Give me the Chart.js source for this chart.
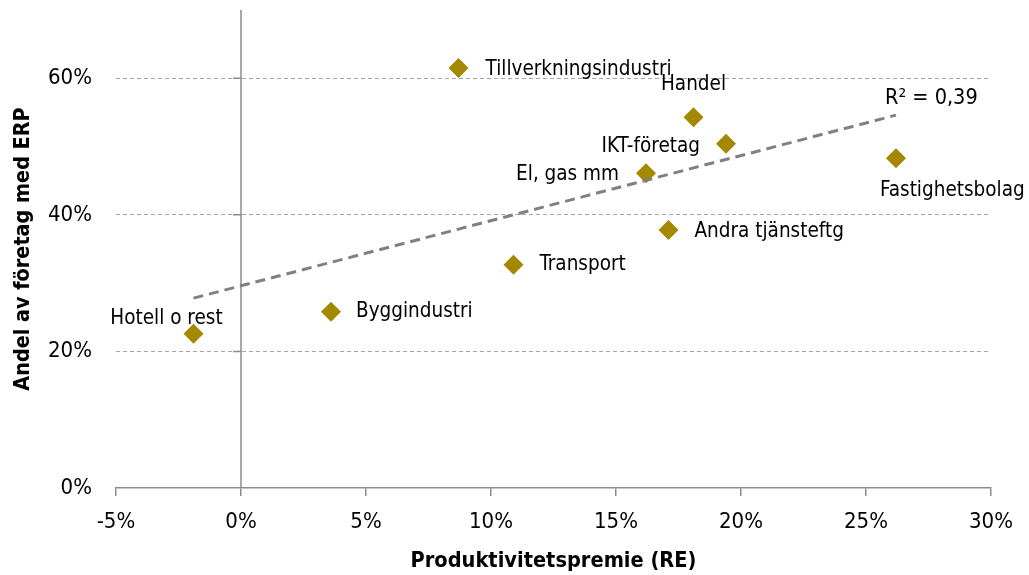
<!DOCTYPE html>
<html>
<head>
<meta charset="utf-8">
<script src="https://cdn.jsdelivr.net/npm/chart.js@4/dist/chart.umd.min.js"></script>
<style>
    html, body { margin: 0; padding: 0; background: #ffffff; }
    #wrap { position: relative; width: 1029px; height: 575px; }
</style>
</head>
<body>
<div id="wrap"><canvas id="erpChart"></canvas></div>
<script>
// Data
const categories = ['Hotell o rest', 'Byggindustri', 'Transport', 'Tillverkningsindustri', 'Handel', 'IKT-företag', 'El, gas mm', 'Andra tjänsteftg', 'Fastighetsbolag'];
const premieValues = [-1.9, 3.6, 10.9, 8.7, 18.1, 19.4, 16.2, 17.1, 26.2];
const erpShares = [22.6, 25.8, 32.7, 61.5, 54.3, 50.4, 46.1, 37.8, 48.3];
const trendX = [-1.9, 26.2];
const trendY = [27.8, 54.6];
const xTicks = [-5, 0, 5, 10, 15, 20, 25, 30];
const yTicks = [0, 20, 40, 60];
const r2Text = 'R² = 0,39';
const xTitle = 'Produktivitetspremie (RE)';
const yTitle = 'Andel av företag med ERP';

// label placement next to each point (pixel offsets, text alignment)
const labelPlacement = [
    { dx: -27, dy: -15, align: 'center' },
    { dx: 25, dy: 0, align: 'left' },
    { dx: 26, dy: 0, align: 'left' },
    { dx: 27, dy: 2, align: 'left' },
    { dx: 0, dy: -33, align: 'center' },
    { dx: -26, dy: 3, align: 'right' },
    { dx: -27, dy: 1, align: 'right' },
    { dx: 26, dy: 2, align: 'left' },
    { dx: -16, dy: 32, align: 'left' },
];

const FONT = "'DejaVu Sans Condensed', 'DejaVu Sans', sans-serif";
const AXIS_GREY = '#8c8c8c';

const pointData = premieValues.map((x, i) => ({ x: x, y: erpShares[i] }));
const trendData = trendX.map((x, i) => ({ x: x, y: trendY[i] }));

// vertical axis at x = 0 with its small tick marks
const zeroAxisPlugin = {
    id: 'zeroAxis',
    beforeDatasetsDraw(chart) {
        const { ctx, chartArea, scales } = chart;
        const x0 = scales.x.getPixelForValue(0);
        ctx.save();
        ctx.strokeStyle = AXIS_GREY;
        ctx.lineWidth = 1.5;
        ctx.beginPath();
        ctx.moveTo(x0, chartArea.top);
        ctx.lineTo(x0, chartArea.bottom);
        yTicks.forEach((v) => {
            if (v === 0) return;
            const y = scales.y.getPixelForValue(v);
            ctx.moveTo(x0 - 8, y);
            ctx.lineTo(x0, y);
        });
        ctx.stroke();
        ctx.restore();
    },
};

const labelPlugin = {
    id: 'pointLabels',
    afterDatasetsDraw(chart) {
        const { ctx } = chart;
        const meta = chart.getDatasetMeta(1);
        ctx.save();
        ctx.fillStyle = '#000000';
        ctx.font = "20.5px " + FONT;
        ctx.textBaseline = 'middle';
        meta.data.forEach((pt, i) => {
            const p = labelPlacement[i];
            ctx.textAlign = p.align;
            ctx.fillText(categories[i], pt.x + p.dx, pt.y + p.dy);
        });

        const trendMeta = chart.getDatasetMeta(0);
        const end = trendMeta.data[trendMeta.data.length - 1];
        ctx.textAlign = 'left';
        ctx.font = "21.5px " + FONT;
        ctx.fillText(r2Text, end.x - 11, end.y - 17);
        ctx.restore();
    },
};

const ctx = document.getElementById('erpChart').getContext('2d');

new Chart(ctx, {
    type: 'scatter',
    data: {
        datasets: [
            {
                type: 'line',
                label: 'Trend',
                data: trendData,
                borderColor: '#808080',
                borderWidth: 3,
                borderDash: [10, 6],
                pointRadius: 0,
                fill: false,
                tension: 0,
            },
            {
                label: 'Andel',
                data: pointData,
                pointStyle: 'rectRot',
                pointRadius: 10,
                pointHoverRadius: 10,
                backgroundColor: '#a38800',
                borderColor: '#a38800',
                borderWidth: 0,
            },
        ],
    },
    options: {
        responsive: true,
        maintainAspectRatio: false,
        animation: false,
        events: [],
        layout: {
            padding: { top: 10, right: 38, bottom: 0, left: 0 },
        },
        plugins: {
            legend: { display: false },
            tooltip: { enabled: false },
        },
        scales: {
            x: {
                type: 'linear',
                min: -5,
                max: 30,
                afterBuildTicks(scale) {
                    scale.ticks = xTicks.map((v) => ({ value: v }));
                },
                afterFit(scale) {
                    scale.height = 87;
                    scale.paddingLeft = 0;
                    scale.paddingRight = 0;
                },
                grid: {
                    drawOnChartArea: false,
                    drawTicks: true,
                    tickLength: 8,
                    color: AXIS_GREY,
                    lineWidth: 1.5,
                },
                border: {
                    display: true,
                    color: AXIS_GREY,
                    width: 1.5,
                },
                ticks: {
                    color: '#000000',
                    padding: 13,
                    maxRotation: 0,
                    font: { family: FONT, size: 22 },
                    callback(value) {
                        return value + '%';
                    },
                },
                title: {
                    display: true,
                    text: xTitle,
                    color: '#000000',
                    font: { family: FONT, size: 21.6, weight: 'bold' },
                    padding: { top: 0, bottom: 1 },
                },
            },
            y: {
                type: 'linear',
                min: 0,
                max: 70,
                afterBuildTicks(scale) {
                    scale.ticks = yTicks.map((v) => ({ value: v }));
                },
                afterFit(scale) {
                    scale.width = 116;
                    scale.paddingTop = 0;
                    scale.paddingBottom = 0;
                },
                grid: {
                    drawTicks: false,
                    lineWidth: 1,
                    color(c) {
                        return c.tick && c.tick.value === 0 ? 'rgba(0,0,0,0)' : '#a6a6a6';
                    },
                },
                border: {
                    display: false,
                    dash: [4, 3],
                },
                ticks: {
                    color: '#000000',
                    padding: 24,
                    font: { family: FONT, size: 22 },
                    callback(value) {
                        return value + '%';
                    },
                },
                title: {
                    display: true,
                    text: yTitle,
                    color: '#000000',
                    font: { family: FONT, size: 21.4, weight: 'bold' },
                    padding: { top: 11, bottom: 0 },
                },
            },
        },
    },
    plugins: [zeroAxisPlugin, labelPlugin],
});
</script>
</body>
</html>
